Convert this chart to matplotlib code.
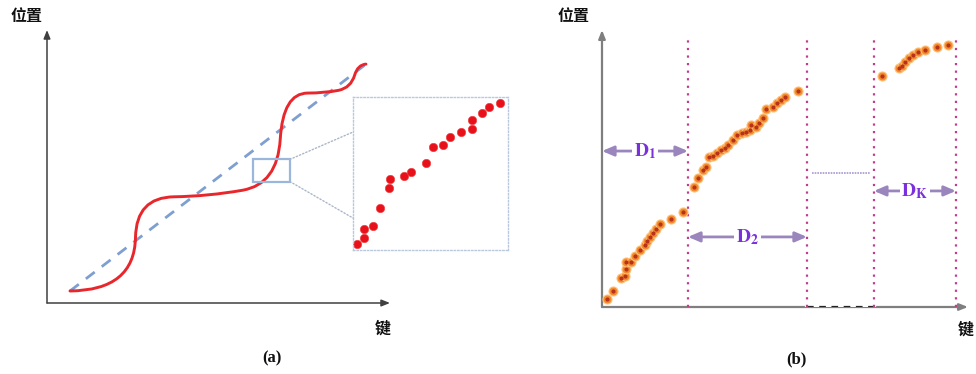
import matplotlib
matplotlib.use("Agg")
import matplotlib.pyplot as plt
from matplotlib.patches import Rectangle, ConnectionPatch, PathPatch
from matplotlib.path import Path

plt.rcParams["font.family"] = ["Noto Sans CJK SC", "DejaVu Sans"]
plt.rcParams["mathtext.fontset"] = "stix"

W, H = 976, 374

# --- Panel (a): learned-index curve vs straight line (axis units 0..100) ---
# curve drawn as smooth quadratic pieces: anchors on the curve, one handle between each pair
curve_anchors = [(6.7, 4.4), (25.8, 24.0), (37.0, 38.9), (57.0, 41.3), (68.0, 60.0),
                 (76.0, 76.9), (85.0, 77.9), (89.7, 83.5), (93.0, 87.5)]
curve_handles = [(25.5, 4.6), (26.0, 38.7), (47.0, 39.1), (67.2, 43.5), (68.8, 76.9),
                 (81.0, 76.9), (88.6, 78.8), (90.6, 87.3)]
line_key = [6.7, 93.0]
line_pos = [4.4, 87.5]
zoom_box = (60.1, 44.5, 10.7, 8.1)   # x, y, width, height

# zoomed-in points (inset units 0..100)
inset_key = [2.6, 7.1, 7.1, 13.0, 17.5, 23.4, 24.0, 33.1, 37.7, 47.4, 51.9, 57.8,
             62.3, 69.5, 76.6, 76.6, 83.1, 87.7, 94.8]
inset_pos = [3.9, 7.8, 13.7, 15.7, 27.5, 40.5, 46.4, 48.4, 51.0, 56.9, 67.3, 68.6,
             73.9, 77.1, 79.1, 85.0, 89.5, 93.5, 96.1]

# --- Panel (b): data partitioned into segments ---
seg1_key = [1.4, 3.0, 5.2, 6.3, 6.6, 6.6, 7.9, 9.0, 10.4, 11.7, 12.3, 13.1, 13.9,
            14.8, 15.8, 18.9, 22.1]
seg1_pos = [2.9, 5.8, 10.5, 11.2, 13.7, 16.2, 16.2, 18.4, 20.6, 22.4, 23.8, 25.3,
            26.7, 28.2, 30.0, 31.8, 34.3]
seg2_key = [25.1, 26.2, 27.6, 28.4, 29.2, 30.3, 31.4, 32.5, 33.6, 34.4, 35.8, 36.9,
            38.3, 39.3, 40.4, 40.7, 42.1, 42.9, 44.0, 44.8, 46.7, 47.8, 48.9, 50.0, 53.6]
seg2_pos = [43.3, 46.6, 49.5, 50.5, 54.2, 54.5, 55.6, 56.7, 57.4, 58.5, 60.3, 62.1,
            62.8, 63.2, 63.9, 65.7, 65.0, 66.4, 68.2, 71.5, 72.2, 73.6, 74.7, 75.8, 78.0]
seg3_key = [76.5, 81.1, 82.0, 82.8, 83.9, 85.0, 86.3, 88.3, 91.5, 94.5]
seg3_pos = [83.4, 86.3, 87.0, 88.4, 89.9, 91.0, 92.1, 92.8, 93.9, 94.6]

bounds = [23.5, 56.0, 74.3, 96.7]
seg_labels = [r"$\mathbf{D}_\mathbf{1}$", r"$\mathbf{D}_\mathbf{2}$", r"$\mathbf{D}_\mathbf{K}$"]
seg_spans = [(0, 23.5), (23.5, 56.0), (74.3, 96.7)]
seg_arrow_pos = [56.3, 25.3, 41.9]


def px_box(x0, y0, x1, y1):
    return [x0 / W, 1 - y1 / H, (x1 - x0) / W, (y1 - y0) / H]


def draw_axes_arrows(ax, color, lw):
    ax.annotate("", xy=(100, 0), xytext=(0, 0), annotation_clip=False,
                arrowprops=dict(arrowstyle="-|>,head_length=0.5,head_width=0.2",
                                color=color, lw=lw, shrinkA=0, shrinkB=0))
    ax.annotate("", xy=(0, 100), xytext=(0, 0), annotation_clip=False,
                arrowprops=dict(arrowstyle="-|>,head_length=0.5,head_width=0.2",
                                color=color, lw=lw, shrinkA=0, shrinkB=0))


fig = plt.figure(figsize=(W / 100, H / 100), dpi=100)

# ---------------- (a) ----------------
ax_a = fig.add_axes(px_box(47, 30, 390, 303))
ax_a.set_xlim(0, 100)
ax_a.set_ylim(0, 100)
ax_a.axis("off")
draw_axes_arrows(ax_a, "#404040", 1.1)

ax_a.plot(line_key, line_pos, color="#7f9fd0", lw=2, dashes=(4, 3.2), zorder=2)

verts = [curve_anchors[0]]
codes = [Path.MOVETO]
for h, a in zip(curve_handles, curve_anchors[1:]):
    verts += [h, a]
    codes += [Path.CURVE3, Path.CURVE3]
ax_a.add_patch(PathPatch(Path(verts, codes), fill=False, edgecolor="#e8262b", lw=2.1,
                         capstyle="round", joinstyle="round", zorder=3))
ax_a.add_patch(Rectangle(zoom_box[:2], zoom_box[2], zoom_box[3], fill=False,
                         edgecolor="#9ab6da", lw=1.6, zorder=4))

ax_in = fig.add_axes(px_box(353, 97, 508, 250))
ax_in.set_xlim(0, 100)
ax_in.set_ylim(0, 100)
ax_in.set_xticks([])
ax_in.set_yticks([])
for sp in ax_in.spines.values():
    sp.set_color("#b9c8de")
    sp.set_linestyle((0, (1, 1.5)))
    sp.set_linewidth(1)
ax_in.plot(inset_key, inset_pos, "o", color="#e8101a", markersize=6,
           markeredgecolor="#f04040", markeredgewidth=0.5, clip_on=False)

for (ya, yi) in [(zoom_box[1] + zoom_box[3], 77.1), (zoom_box[1], 20.9)]:
    con = ConnectionPatch(xyA=(zoom_box[0] + zoom_box[2], ya), coordsA=ax_a.transData,
                          xyB=(0, yi), coordsB=ax_in.transData,
                          color="#aab6c8", lw=1, linestyle=(0, (1, 1.5)))
    fig.add_artist(con)

# ---------------- (b) ----------------
ax_b = fig.add_axes(px_box(602, 30, 968, 307))
ax_b.set_xlim(0, 100)
ax_b.set_ylim(0, 100)
ax_b.axis("off")
draw_axes_arrows(ax_b, "#7f7f7f", 1.6)

# break in the key axis
ax_b.plot([bounds[1], bounds[2]], [0, 0], color="white", lw=3, zorder=3)
ax_b.plot([bounds[1], bounds[2]], [0, 0], color="#222222", lw=1.6,
          dashes=(3, 2.5), zorder=4)
ax_b.plot([57.4, 73.2], [48.4, 48.4], color="#a69ad0", lw=1.2,
          linestyle=(0, (1, 0.6)), zorder=2)

for b in bounds:
    ax_b.plot([b, b], [0, 96.4], color="#c23c8e", lw=1.6,
              linestyle=(0, (1, 2.4)), zorder=5)

for kx, py in [(seg1_key, seg1_pos), (seg2_key, seg2_pos), (seg3_key, seg3_pos)]:
    ax_b.plot(kx, py, "o", color="#f38a2c", markersize=6.5,
              markeredgecolor="#ffc27a", markeredgewidth=0.8, zorder=6)
    ax_b.plot(kx, py, "o", color="#b8321a", markersize=2, zorder=7)

for (x0, x1), yv, lab in zip(seg_spans, seg_arrow_pos, seg_labels):
    ax_b.annotate("", xy=(x0, yv), xytext=(x1, yv), annotation_clip=False,
                  arrowprops=dict(arrowstyle="<|-|>,head_length=0.7,head_width=0.3",
                                  color="#9a86bd", lw=2, shrinkA=0, shrinkB=0),
                  zorder=6)
    ax_b.text((x0 + x1) / 2, yv, lab, ha="center", va="center", fontsize=14,
              color="#7a30dc", zorder=8,
              bbox=dict(boxstyle="square,pad=0.1", fc="white", ec="none"))

# ---------------- labels ----------------
for x, y, s in [(27, 16, "位置"), (574, 16, "位置"), (383, 329, "键"), (966, 330, "键")]:
    fig.text(x / W, 1 - y / H, s, ha="center", va="center", fontsize=11.5,
             fontweight="bold", color="#111111")
for x, y, s in [(272, 358, "(a)"), (796, 359, "(b)")]:
    fig.text(x / W, 1 - y / H, s, ha="center", va="center", fontsize=12,
             fontweight="bold", family="Liberation Serif", color="#111111")

fig.savefig("out.png", dpi=100)
